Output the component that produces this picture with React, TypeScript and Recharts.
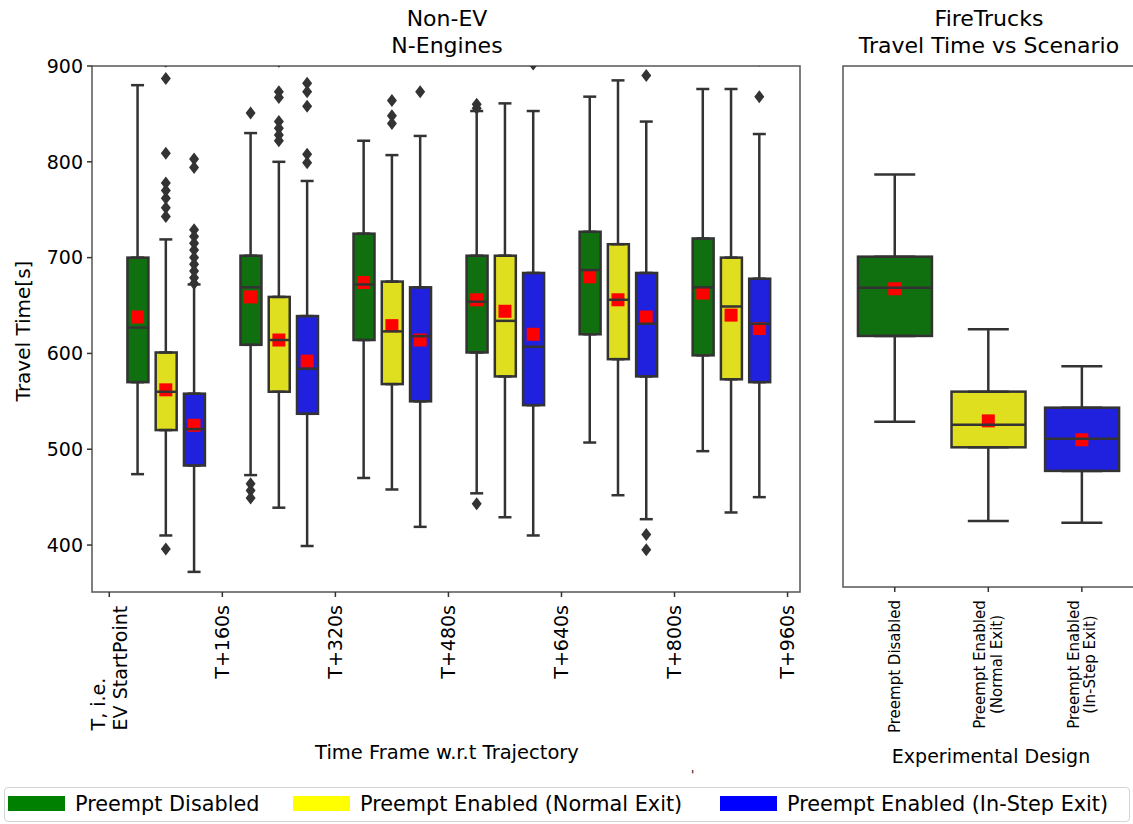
import React from 'react';
import {
  ComposedChart,
  Bar,
  Scatter,
  ErrorBar,
  XAxis,
  YAxis,
  ReferenceArea,
} from 'recharts';

const timeFrames = [
  'T, i.e.\nEV StartPoint',
  'T+160s',
  'T+320s',
  'T+480s',
  'T+640s',
  'T+800s',
  'T+960s',
];
const scenarios = [
  'Preempt Disabled',
  'Preempt Enabled (Normal Exit)',
  'Preempt Enabled (In-Step Exit)',
];
const designLabels = [
  'Preempt Disabled',
  'Preempt Enabled\n(Normal Exit)',
  'Preempt Enabled\n(In-Step Exit)',
];
const travelTicks = [400, 500, 600, 700, 800, 900];

// [whisker low, q1, median, q3, whisker high, mean] for each time frame
const disabledStats = [
  [474, 570, 627, 700, 880, 638],
  [473, 609, 669, 702, 830, 659],
  [470, 614, 672, 725, 822, 674],
  [454, 601, 654, 702, 853, 656],
  [507, 620, 687, 727, 868, 680],
  [498, 598, 669, 720, 876, 663],
];
const normalExitStats = [
  [410, 520, 560, 601, 719, 562],
  [439, 560, 614, 659, 800, 614],
  [458, 568, 623, 675, 807, 629],
  [429, 576, 634, 702, 861, 644],
  [452, 594, 656, 714, 885, 656],
  [434, 573, 649, 700, 876, 640],
];
const inStepExitStats = [
  [372, 483, 521, 558, 672, 525],
  [399, 537, 584, 639, 780, 592],
  [419, 550, 618, 669, 827, 614],
  [410, 546, 607, 684, 853, 620],
  [427, 576, 631, 684, 842, 638],
  [450, 570, 631, 678, 829, 626],
];

const disabledOutliers = [[], [851, 464, 457, 449], [], [860, 856, 443], [], []];
const normalExitOutliers = [
  [905, 887, 809, 778, 770, 762, 752, 743, 396],
  [905, 873, 867, 842, 835, 828, 822],
  [864, 848, 840],
  [],
  [],
  [],
];
const inStepExitOutliers = [
  [803, 794, 729, 722, 715, 708, 700, 693, 686, 679, 673],
  [882, 873, 858, 808, 799],
  [873],
  [902],
  [890, 411, 395],
  [868, 906],
];

// fire trucks, one box per scenario
const fireTruckStats = [
  [525, 616, 667, 700, 787, 666],
  [420, 498, 522, 557, 623, 526],
  [418, 473, 507, 540, 584, 506],
];

const boxFills = ['#107010', '#dfdf20', '#2020df'];
const legendFills = ['#008000', '#ffff00', '#0000ff'];
const EDGE = '#333333';
const FONT = '"DejaVu Sans", sans-serif';

function toRow(st: number[], x: number, s: number) {
  const [lo, q1, med, q3, hi, mean] = st;
  return { x, s, box: [q1, q3], q1, med, q3, mean, dn: [q1 - lo, 0], up: [0, hi - q3] };
}

const allStats = [disabledStats, normalExitStats, inStepExitStats];
const allOutliers = [disabledOutliers, normalExitOutliers, inStepExitOutliers];

const nonEvRows = allStats.flatMap((stats, s) =>
  stats.map((st, i) => toRow(st, i + 0.25 + s * 0.25, s))
);
const nonEvOutliers = allOutliers.flatMap((groups, s) =>
  groups.flatMap((vals, i) => vals.map((v) => ({ x: i + 0.25 + s * 0.25, v })))
);
const fireRows = fireTruckStats.map((st, s) => toRow(st, s, s));

const boxShape = (p: any) => {
  const top = Math.min(p.y, p.y + p.height);
  return (
    <rect
      x={p.x}
      y={top}
      width={p.width}
      height={Math.abs(p.height)}
      fill={boxFills[p.payload.s]}
      stroke={EDGE}
      strokeWidth={2.5}
    />
  );
};
const hidden = () => <g />;
const medianShape = (w: number) => (p: any) => (
  <line x1={p.cx - w / 2} x2={p.cx + w / 2} y1={p.cy} y2={p.cy} stroke={EDGE} strokeWidth={2.5} />
);
const meanShape = (p: any) => (
  <rect x={p.cx - 6.5} y={p.cy - 6.5} width={13} height={13} fill="#ff0000" />
);
const diamondShape = (p: any) => (
  <polygon
    points={`${p.cx},${p.cy - 6.5} ${p.cx + 5},${p.cy} ${p.cx},${p.cy + 6.5} ${p.cx - 5},${p.cy}`}
    fill={EDGE}
  />
);

const TimeTick = (p: any) => {
  const lines = timeFrames[p.payload.value].split('\n');
  const y0 = p.y + 6;
  const rot = `rotate(-90 ${p.x} ${y0})`;
  if (lines.length === 1) {
    return (
      <text x={p.x} y={y0} dy="0.35em" transform={rot} textAnchor="end" fontSize={19} fontFamily={FONT} fill="#000">
        {lines[0]}
      </text>
    );
  }
  return (
    <text x={p.x} y={y0} transform={rot} textAnchor="start" fontSize={19} fontFamily={FONT} fill="#000">
      <tspan x={p.x} dx="-6.6em" dy="-0.215em">{lines[0]}</tspan>
      <tspan x={p.x} dx="-6.6em" dy="1.13em">{lines[1]}</tspan>
    </text>
  );
};

const DesignTick = (p: any) => {
  const lines = designLabels[p.payload.value].split('\n');
  const y0 = p.y + 6;
  const rot = `rotate(-90 ${p.x} ${y0})`;
  if (lines.length === 1) {
    return (
      <text x={p.x} y={y0} dy="0.35em" transform={rot} textAnchor="end" fontSize={15} fontFamily={FONT} fill="#000">
        {lines[0]}
      </text>
    );
  }
  return (
    <text x={p.x} y={y0} transform={rot} textAnchor="middle" fontSize={15} fontFamily={FONT} fill="#000">
      <tspan x={p.x} dx="-4.3em" dy="-0.2em">{lines[0]}</tspan>
      <tspan x={p.x} dx="-4.3em" dy="1.1em">{lines[1]}</tspan>
    </text>
  );
};

const abs = (style: React.CSSProperties): React.CSSProperties => ({ position: 'absolute', ...style });

export default function App() {
  const leftX: [number, number] = [-0.153, 6.11];
  const leftY: [number, number] = [351, 900];
  const rightX: [number, number] = [-0.553, 2.6];
  const rightY: [number, number] = [350, 902];

  return (
    <div style={abs({ left: 0, top: 0, width: 1133, height: 824, overflow: 'hidden', background: '#fff', fontFamily: FONT, color: '#000' })}>
      <div style={abs({ left: 0, top: 0 })}>
        <ComposedChart width={812} height={760} data={nonEvRows} margin={{ top: 66, right: 12, bottom: 0, left: 0 }}>
          <XAxis
            dataKey="x"
            type="number"
            domain={leftX}
            allowDataOverflow
            ticks={timeFrames.map((_, i) => i)}
            interval={0}
            height={168}
            tick={<TimeTick />}
            tickSize={5}
            tickLine={{ stroke: EDGE, strokeWidth: 1.5 }}
            axisLine={false}
          />
          <YAxis
            type="number"
            domain={leftY}
            allowDataOverflow
            ticks={travelTicks}
            interval={0}
            width={92}
            tickSize={5}
            tickMargin={4}
            tickLine={{ stroke: EDGE, strokeWidth: 1.5 }}
            axisLine={false}
            tick={{ fontSize: 19, fill: '#000', fontFamily: FONT }}
          />
          <ReferenceArea x1={leftX[0]} x2={leftX[1]} y1={leftY[0]} y2={leftY[1]} fill="none" stroke="#555" strokeWidth={1.5} ifOverflow="visible" />
          <Bar dataKey="box" barSize={21} shape={boxShape} isAnimationActive={false} />
          <Scatter data={nonEvRows} dataKey="q1" shape={hidden} isAnimationActive={false}>
            <ErrorBar dataKey="dn" direction="y" width={6.5} stroke={EDGE} strokeWidth={2.5} isAnimationActive={false} />
          </Scatter>
          <Scatter data={nonEvRows} dataKey="q3" shape={hidden} isAnimationActive={false}>
            <ErrorBar dataKey="up" direction="y" width={6.5} stroke={EDGE} strokeWidth={2.5} isAnimationActive={false} />
          </Scatter>
          <Scatter data={nonEvRows} dataKey="mean" shape={meanShape} isAnimationActive={false} />
          <Scatter data={nonEvRows} dataKey="med" shape={medianShape(21)} isAnimationActive={false} />
          <Scatter data={nonEvOutliers} dataKey="v" shape={diamondShape} isAnimationActive={false} />
        </ComposedChart>
      </div>

      <div style={abs({ left: 833, top: 0 })}>
        <ComposedChart width={310} height={760} data={fireRows} margin={{ top: 66, right: 5, bottom: 0, left: 0 }}>
          <XAxis
            dataKey="x"
            type="number"
            domain={rightX}
            allowDataOverflow
            ticks={designLabels.map((_, i) => i)}
            interval={0}
            height={173}
            tick={<DesignTick />}
            tickSize={5}
            tickLine={{ stroke: EDGE, strokeWidth: 1.5 }}
            axisLine={false}
          />
          <YAxis
            type="number"
            domain={rightY}
            allowDataOverflow
            ticks={travelTicks}
            interval={0}
            width={10}
            tickSize={5}
            tickLine={{ stroke: EDGE, strokeWidth: 1.5 }}
            axisLine={false}
            tick={false}
          />
          <ReferenceArea x1={rightX[0]} x2={rightX[1]} y1={rightY[0]} y2={rightY[1]} fill="none" stroke="#555" strokeWidth={1.5} ifOverflow="visible" />
          <Bar dataKey="box" barSize={74} shape={boxShape} isAnimationActive={false} />
          <Scatter data={fireRows} dataKey="q1" shape={hidden} isAnimationActive={false}>
            <ErrorBar dataKey="dn" direction="y" width={20.5} stroke={EDGE} strokeWidth={2.5} isAnimationActive={false} />
          </Scatter>
          <Scatter data={fireRows} dataKey="q3" shape={hidden} isAnimationActive={false}>
            <ErrorBar dataKey="up" direction="y" width={20.5} stroke={EDGE} strokeWidth={2.5} isAnimationActive={false} />
          </Scatter>
          <Scatter data={fireRows} dataKey="mean" shape={meanShape} isAnimationActive={false} />
          <Scatter data={fireRows} dataKey="med" shape={medianShape(74)} isAnimationActive={false} />
        </ComposedChart>
      </div>

      {/* titles and axis labels */}
      <div style={abs({ left: 297, top: 6, width: 300, textAlign: 'center', fontSize: 22, lineHeight: '26.5px' })}>
        Non-EV<br />N-Engines
      </div>
      <div style={abs({ left: 839, top: 6, width: 300, textAlign: 'center', fontSize: 22, lineHeight: '26.5px' })}>
        FireTrucks<br />Travel Time vs Scenario
      </div>
      <div style={abs({ left: -77, top: 321, width: 200, height: 20, textAlign: 'center', fontSize: 20, lineHeight: '20px', transform: 'rotate(-90deg)' })}>
        Travel Time[s]
      </div>
      <div style={abs({ left: 247, top: 743, width: 400, textAlign: 'center', fontSize: 19.5, lineHeight: '19.5px' })}>
        Time Frame w.r.t Trajectory
      </div>
      <div style={abs({ left: 841, top: 747, width: 300, textAlign: 'center', fontSize: 19, lineHeight: '19px' })}>
        Experimental Design
      </div>
      <div style={abs({ left: 691, top: 769, fontSize: 12, lineHeight: '12px' })}>'</div>

      {/* legend */}
      <div style={abs({ left: 4, top: 787, width: 1126, height: 35, border: '1px solid #d4d4d4', borderRadius: 4, boxSizing: 'border-box' })} />
      {scenarios.map((name, i) => {
        const swatchLeft = [8, 293, 720][i];
        return (
          <React.Fragment key={name}>
            <div style={abs({ left: swatchLeft, top: 796, width: 57, height: 15, background: legendFills[i] })} />
            <div style={abs({ left: swatchLeft + 67, top: 794, fontSize: 20.8, lineHeight: '21px', whiteSpace: 'nowrap' })}>
              {name}
            </div>
          </React.Fragment>
        );
      })}
    </div>
  );
}
